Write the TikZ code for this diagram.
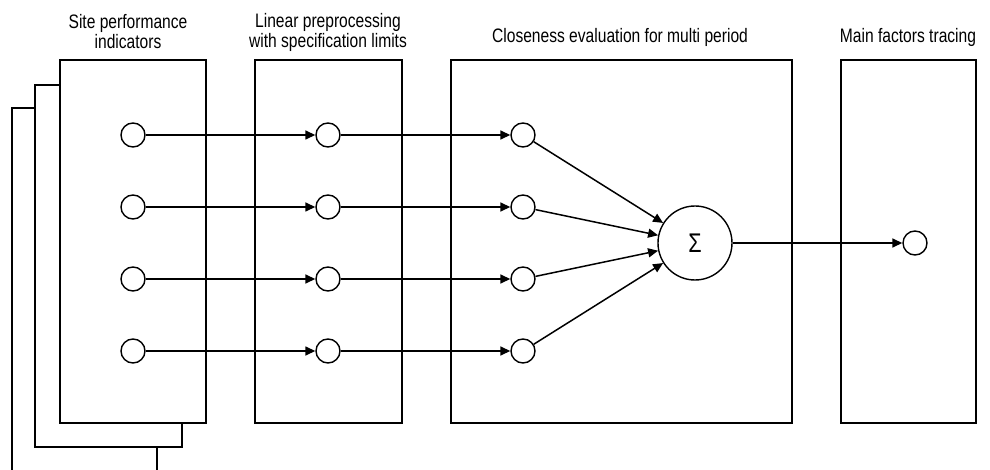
\documentclass[tikz,border=0pt]{standalone}
\usepackage{fontspec}
\setmainfont[FakeStretch=0.8]{Liberation Sans}
\usetikzlibrary{arrows.meta}
\begin{document}
\begin{tikzpicture}[x=1pt,y=-1pt,line width=1.5pt,
  panel/.style={draw,fill=white,line width=1.4pt,inner sep=0pt},
  dot/.style={circle,draw,minimum size=24pt,inner sep=0pt,line width=1.4pt},
  sumnode/.style={circle,draw,minimum size=74pt,inner sep=0pt,line width=1.4pt,font=\fontsize{27}{29}\selectfont},
  conn/.style={-{Triangle[length=10pt,width=9pt]},line width=1.5pt},
  lbl/.style={font=\fontsize{19.5}{20}\selectfont,align=center,inner sep=0pt}]
\useasboundingbox (0,0) rectangle (990,470);
% stacked back panels
\coordinate (s3a) at (12,475);
\coordinate (s3b) at (35,108);
\coordinate (s3c) at (157,447);
\coordinate (s3d) at (157,475);
\draw[line width=1.4pt] (s3a) |- (s3b);
\draw[line width=1.4pt] (s3c) -- (s3d);
\coordinate (s2a) at (60,85);
\coordinate (s2b) at (35,447);
\coordinate (s2c) at (182,423);
\draw[line width=1.4pt] (s2a) -| (s2b) -| (s2c);
% panels
\node[panel,minimum width=146pt,minimum height=363pt] (p1) at (133,241.5) {};
\node[panel,minimum width=147pt,minimum height=363pt] (p2) at (328.5,241.5) {};
\node[panel,minimum width=341pt,minimum height=363pt] (p3) at (621.5,241.5) {};
\node[panel,minimum width=135pt,minimum height=363pt] (p4) at (908.5,241.5) {};
% labels
\node[lbl] (l1) at (128,32) {Site performance\\indicators};
\node[lbl] (l2) at (328,32) {Linear preprocessing\\with specification limits};
\node[lbl] (l3) at (620,37) {Closeness evaluation for multi period};
\node[lbl] (l4) at (908,37) {Main factors tracing};
% nodes
\foreach \i/\y in {1/135,2/207,3/279,4/351}{
  \node[dot] (a\i) at (133,\y) {};
  \node[dot] (b\i) at (328,\y) {};
  \node[dot] (c\i) at (523,\y) {};
}
\node[sumnode] (s) at (695,243) {Σ};
\node[dot] (o) at (915,243) {};
\foreach \i in {1,2,3,4}{
  \draw[conn] (a\i) -- (b\i);
  \draw[conn] (b\i) -- (c\i);
  \draw[conn] (c\i) -- (s);
}
\draw[conn] (s) -- (o);
\end{tikzpicture}
\end{document}
